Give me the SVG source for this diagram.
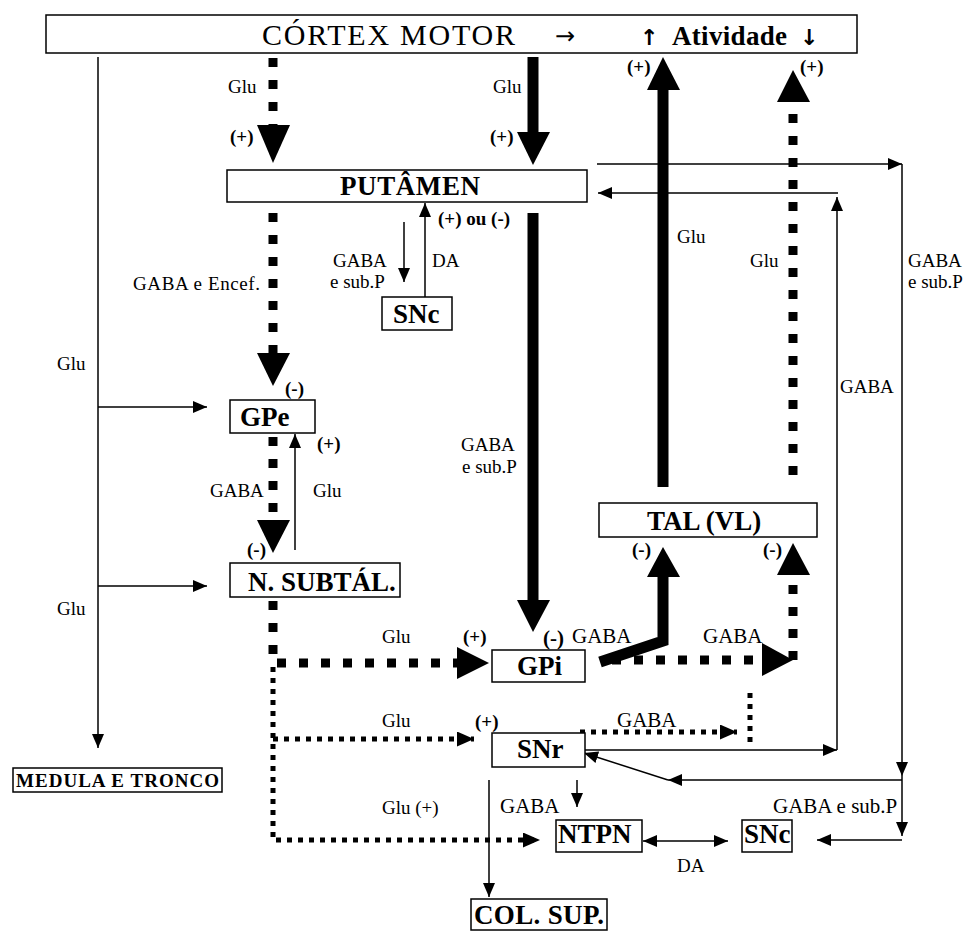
<svg xmlns="http://www.w3.org/2000/svg" width="967" height="931" viewBox="0 0 967 931">
<defs>
<style>
text{font-family:"Liberation Serif","Times New Roman","DejaVu Serif",serif;fill:#000}
.box{fill:#fff;stroke:#000;stroke-width:1.5}
.lbl{font-size:19px}
.big{font-size:21px}
.b{font-weight:bold}
.node{font-weight:bold;font-size:27px}
.arr{font-family:"DejaVu Sans",sans-serif}
.thin{stroke:#000;stroke-width:1.5;fill:none}
.thick{stroke:#000;stroke-width:11;fill:none}
.dash{stroke:#000;stroke-width:9;stroke-dasharray:9 13;fill:none}
.dot{stroke:#000;stroke-width:5;stroke-dasharray:5 6;fill:none}
.head{fill:#000}
</style>
<marker id="a" markerUnits="userSpaceOnUse" markerWidth="14" markerHeight="12" refX="14" refY="6" orient="auto-start-reverse"><path d="M0,0 L14,6 L0,12 z" fill="#000"/></marker>
<marker id="ab" markerUnits="userSpaceOnUse" markerWidth="17" markerHeight="15" refX="17" refY="7.5" orient="auto"><path d="M0,0 L17,7.5 L0,15 z" fill="#000"/></marker>
</defs>
<rect width="967" height="931" fill="#fff"/>

<g id="connectors">
<path class="thin" d="M98,57 V748" marker-end="url(#a)"/>
<path class="thin" d="M98,407 H207" marker-end="url(#a)"/>
<path class="thin" d="M98,586 H207" marker-end="url(#a)"/>
<path class="dash" d="M273,58 V125"/>
<polygon class="head" points="257,125 290,125 273,163"/>
<path class="thick" d="M533,57 V132"/>
<polygon class="head" points="517,132 550,132 533,165"/>
<path class="thick" d="M663,487 V88"/>
<polygon class="head" points="647,90 680,90 663,57"/>
<path class="dash" d="M793,475 V102"/>
<polygon class="head" points="777,102 810,102 793,70"/>
<path class="thin" d="M597,164 H902" marker-end="url(#a)"/>
<path class="thin" d="M902,164 V776" marker-end="url(#a)"/>
<path class="thin" d="M902,776 V836" marker-end="url(#a)"/>
<path class="thin" d="M902,840 H817" marker-end="url(#a)"/>
<path class="thin" d="M902,780 H668" marker-end="url(#a)"/>
<path class="thin" d="M668,780 L584,753" marker-end="url(#a)"/>
<path class="thin" d="M584,750 H837" marker-end="url(#a)"/>
<path class="thin" d="M837,750 V197" marker-end="url(#a)"/>
<path class="thin" d="M838,193 H598" marker-end="url(#a)"/>
<path class="thin" d="M425,297 V203" marker-end="url(#a)"/>
<path class="thin" d="M404,222 V282" marker-end="url(#a)"/>
<path class="dash" d="M273,213 V353"/>
<polygon class="head" points="257,353 290,353 273,386"/>
<path class="thick" d="M533,213 V600"/>
<polygon class="head" points="517,600 550,600 533,632"/>
<path class="dash" d="M273,437 V520"/>
<polygon class="head" points="257,520 290,520 273,553"/>
<path class="thin" d="M295,550 V434" marker-end="url(#a)"/>
<path class="dash" d="M273,601 V663 H457"/>
<polygon class="head" points="457,647 457,679 489,663"/>
<path class="thick" d="M600,662 L663,641 V577" stroke-linejoin="miter"/>
<polygon class="head" points="647,577 680,577 663,547"/>
<path class="dash" d="M612,660 H762"/>
<polygon class="head" points="762,643 762,676 793,660"/>
<path class="dash" d="M793,660 V575"/>
<polygon class="head" points="777,575 810,575 793,543"/>
<path class="dot" d="M273,667 V840 H540" marker-end="url(#ab)"/>
<path class="dot" d="M273,739 H474" marker-end="url(#ab)"/>
<path class="dot" d="M580,732 H737" marker-end="url(#ab)"/>
<path class="dot" d="M750,693 V748"/>
<path class="thin" d="M577,780 V807" marker-end="url(#a)"/>
<path class="thin" d="M489,780 V897" marker-end="url(#a)"/>
<path class="thin" d="M643,841 H728" marker-start="url(#a)" marker-end="url(#a)"/>
</g>

<g id="labels">
<text class="lbl" x="228" y="93">Glu</text>
<text class="lbl b" x="230" y="143">(+)</text>
<text class="lbl" x="493" y="93">Glu</text>
<text class="lbl b" x="490" y="143">(+)</text>
<text class="lbl b" x="627" y="73">(+)</text>
<text class="lbl b" x="800" y="73">(+)</text>
<text class="lbl" x="677" y="243">Glu</text>
<text class="lbl" x="750" y="267">Glu</text>
<text class="lbl" x="908" y="267">GABA</text>
<text class="lbl" x="908" y="288">e sub.P</text>
<text class="lbl" x="840" y="393">GABA</text>
<text class="lbl" x="57" y="370">Glu</text>
<text class="lbl" x="57" y="615">Glu</text>
<text class="lbl" x="133" y="290" textLength="127">GABA e Encef.</text>
<text class="lbl" x="333" y="267">GABA</text>
<text class="lbl" x="330" y="288">e sub.P</text>
<text class="lbl" x="432" y="267">DA</text>
<text class="lbl b" x="438" y="225">(+) ou (-)</text>
<text class="lbl b" x="285" y="395">(-)</text>
<text class="lbl b" x="317" y="450">(+)</text>
<text class="lbl" x="210" y="497">GABA</text>
<text class="lbl" x="313" y="497">Glu</text>
<text class="lbl b" x="247" y="556">(-)</text>
<text class="lbl" x="461" y="451">GABA</text>
<text class="lbl" x="462" y="473">e sub.P</text>
<text class="lbl" x="382" y="643">Glu</text>
<text class="lbl b" x="463" y="643">(+)</text>
<text class="lbl b big" x="543" y="645">(-)</text>
<text class="lbl big" x="572" y="643">GABA</text>
<text class="lbl big" x="703" y="643">GABA</text>
<text class="lbl b" x="632" y="556">(-)</text>
<text class="lbl b" x="763" y="556">(-)</text>
<text class="lbl" x="382" y="727">Glu</text>
<text class="lbl b" x="475" y="728">(+)</text>
<text class="lbl big" x="617" y="727">GABA</text>
<text class="lbl" x="382" y="814">Glu (+)</text>
<text class="lbl big" x="500" y="813">GABA</text>
<text class="lbl big" x="773" y="813">GABA e sub.P</text>
<text class="lbl" x="677" y="872">DA</text>
</g>

<g id="cortex">
<rect class="box" x="46" y="15" width="811" height="38"/>
<text x="262" y="45" font-size="30" textLength="253">CÓRTEX MOTOR</text>
<text class="arr" x="555" y="44" font-size="24">→</text>
<text class="arr" x="640" y="45" font-size="22" font-weight="bold">↑</text>
<text x="672" y="45" font-weight="bold" font-size="27" textLength="115">Atividade</text>
<text class="arr" x="800" y="45" font-size="22" font-weight="bold">↓</text>
</g>
<g id="putamen">
<rect class="box" x="227" y="170" width="360" height="32"/>
<text class="node" x="340" y="195" textLength="140">PUTÂMEN</text>
</g>
<g id="snc-top">
<rect class="box" x="382" y="297" width="70" height="33"/>
<text class="node" x="393" y="323">SNc</text>
</g>
<g id="gpe">
<rect class="box" x="230" y="400" width="85" height="33"/>
<text class="node" x="240" y="426">GPe</text>
</g>
<g id="tal">
<rect class="box" x="599" y="503" width="218" height="34"/>
<text class="node" x="647" y="530">TAL (VL)</text>
</g>
<g id="stn">
<rect class="box" x="230" y="563" width="170" height="34"/>
<text class="node" x="248" y="591">N. SUBTÁL.</text>
</g>
<g id="gpi">
<rect class="box" x="492" y="650" width="93" height="32"/>
<text class="node" x="517" y="675">GPi</text>
</g>
<g id="snr">
<rect class="box" x="492" y="733" width="93" height="34"/>
<text class="node" x="517" y="758">SNr</text>
</g>
<g id="medula">
<rect class="box" x="13" y="768" width="209" height="24"/>
<text x="16" y="787" font-weight="bold" font-size="19" textLength="203">MEDULA E TRONCO</text>
</g>
<g id="ntpn">
<rect class="box" x="556" y="820" width="86" height="32"/>
<text class="node" x="558" y="843">NTPN</text>
</g>
<g id="snc-bottom">
<rect class="box" x="742" y="820" width="50" height="32"/>
<text class="node" x="744" y="843">SNc</text>
</g>
<g id="colsup">
<rect class="box" x="471" y="899" width="136" height="31"/>
<text class="node" x="474" y="924" font-size="26" textLength="130">COL. SUP.</text>
</g>
</svg>
